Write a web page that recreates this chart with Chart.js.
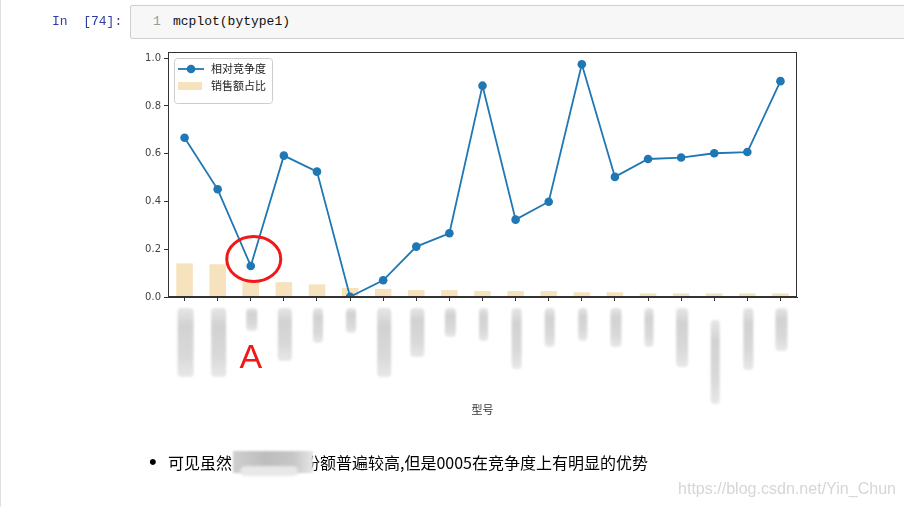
<!DOCTYPE html>
<html><head><meta charset="utf-8">
<script src="https://cdn.jsdelivr.net/npm/chart.js@4.4.0/dist/chart.umd.min.js"></script>
<style>
html,body{margin:0;padding:0;background:#fff;width:904px;height:507px;overflow:hidden;position:relative;}
#c{position:absolute;left:0;top:0;z-index:1;}
.abs{position:absolute;white-space:pre;z-index:2;}
.mono{font-family:'Liberation Mono','DejaVu Sans Mono',monospace;font-size:13px;line-height:16px;}
</style></head><body>
<div class="abs" style="left:0;top:0;width:1px;height:507px;background:#e0e0e0"></div>
<div class="abs mono" style="left:52px;top:14px;color:#303F9F">In  [74]:</div>
<div class="abs" style="left:130px;top:5px;width:790px;height:32px;background:#f7f7f7;border:1px solid #cfcfcf;border-radius:2px"></div>
<div class="abs mono" style="left:153px;top:14px;color:#999">1</div>
<div class="abs mono" style="left:173px;top:14px;color:#111">mcplot(bytype1)</div>
<canvas id="c" width="904" height="507"></canvas>
<div class="abs" style="left:149px;top:449px;font:22px 'Liberation Sans',sans-serif;line-height:26px;color:#000">•</div>
<div class="abs" id="t1" style="left:168px;top:451px;font:16px 'Noto Sans CJK SC',sans-serif;line-height:22px;color:#000">可见虽然</div>
<div class="abs" id="t2" style="left:306px;top:451px;font:16px 'Noto Sans CJK SC',sans-serif;line-height:22px;color:#000">份额普遍较高,但是0005在竞争度上有明显的优势</div>
<div class="abs" style="left:233px;top:451px;width:80px;height:22px;background:linear-gradient(90deg,#cfcfcf,#bdbdbd 40%,#c6c6c6 75%,#e6e6e6);filter:blur(1.2px);z-index:3"></div>
<div class="abs" style="left:240px;top:466px;width:58px;height:10px;border-radius:6px;background:#e8e8e8;filter:blur(1.5px);z-index:3"></div>
<div class="abs" id="wm" style="left:678px;top:478px;font:16px 'Liberation Sans',Arial,sans-serif;line-height:22px;color:#d6d6d6;transform-origin:0 0">https://blog.csdn.net/Yin_Chun</div>
<script>
// ---- data ----
const categories = ['型号01','型号02','型号03','型号04','型号05','型号06','型号07','型号08','型号09','型号10','型号11','型号12','型号13','型号14','型号15','型号16','型号17','型号18','型号19'];
const competition = [0.667,0.451,0.130,0.592,0.525,0.001,0.070,0.211,0.267,0.885,0.324,0.399,0.975,0.503,0.578,0.584,0.602,0.607,0.904];
const salesShare = [0.141,0.137,0.064,0.062,0.053,0.038,0.034,0.029,0.029,0.025,0.025,0.025,0.020,0.020,0.015,0.015,0.015,0.015,0.015];
const yTicks = [0,0.2,0.4,0.6,0.8,1.0];
const seriesNames = ['相对竞争度','销售额占比'];
// decoration: lengths of the blurred (redacted) tick labels
const blurLen = [69,69,23,53,35,25,69,49,29,33,61,39,33,39,39,59,84,62,43];
const blurW = [16,15,11,14,10,10,14,14,11,9,10,10,9,11,9,12,9,10,12];

// fit watermark width and right-align sentence tail
(function(){const w=document.getElementById('wm');const r=w.getBoundingClientRect().width;w.style.transform='scaleX('+(218/r)+')';
const t=document.getElementById('t2');const tw=t.getBoundingClientRect().width;t.style.left=(648-tw)+'px';})();

const LINE='#1f77b4', BAR='#f6e2bd', FRAME='#333';
const deco = {
  id:'deco',
  afterDraw(chart){
    const {ctx, chartArea:a, scales:{x,y}} = chart;
    ctx.save();
    // frame
    ctx.strokeStyle=FRAME; ctx.lineWidth=1;
    ctx.strokeRect(Math.round(a.left)+0.5, Math.round(a.top)+0.5, Math.round(a.right-a.left)-1, Math.round(a.bottom-a.top)-1);
    // legend
    const lx=a.left+6, ly=a.top+6;
    ctx.beginPath(); ctx.roundRect(lx+0.5, ly+0.5, 98, 45, 3);
    ctx.fillStyle='rgba(255,255,255,0.85)'; ctx.fill();
    ctx.strokeStyle='#cccccc'; ctx.stroke();
    ctx.strokeStyle=LINE; ctx.lineWidth=1.8;
    ctx.beginPath(); ctx.moveTo(lx+4, ly+11); ctx.lineTo(lx+30, ly+11); ctx.stroke();
    ctx.fillStyle=LINE; ctx.beginPath(); ctx.arc(lx+17, ly+11, 4.3, 0, Math.PI*2); ctx.fill();
    ctx.fillStyle=BAR; ctx.fillRect(lx+4, ly+24, 24, 8);
    ctx.fillStyle='#222'; ctx.font="11px 'Noto Sans CJK SC'"; ctx.textBaseline='middle'; ctx.textAlign='left';
    ctx.fillText(chart.data.datasets[0].label, lx+37, ly+11);
    ctx.fillText(chart.data.datasets[1].label, lx+37, ly+28);
    // blurred (redacted) tick labels
    ctx.filter='blur(0.8px)';
    categories.forEach((c,i)=>{
      const px=x.getPixelForValue(i);
      const top = i===16 ? a.bottom+23 : a.bottom+11;
      const g=ctx.createLinearGradient(0,top,0,top+blurLen[i]);
      g.addColorStop(0,'#e6e6e6'); g.addColorStop(0.25,'#d2d2d2'); g.addColorStop(0.7,'#d9d9d9'); g.addColorStop(1,'#e8e8e8');
      ctx.fillStyle=g;
      ctx.beginPath(); ctx.roundRect(px-blurW[i]/2+1, top, blurW[i], blurLen[i], 4); ctx.fill();
    });
    ctx.filter='none';
    // annotation: red circle around point 3 and "A"
    const cx=x.getPixelForValue(2)+3, cy=y.getPixelForValue(competition[2])-7;
    ctx.strokeStyle='#f21818'; ctx.lineWidth=3;
    ctx.beginPath(); ctx.ellipse(cx, cy, 27, 22.5, 0, 0, Math.PI*2); ctx.stroke();
    ctx.fillStyle='#f21818'; ctx.font="34px 'Liberation Sans',Arial,sans-serif"; ctx.textAlign='center'; ctx.textBaseline='alphabetic';
    ctx.fillText('A', x.getPixelForValue(2), a.bottom+71);
    ctx.restore();
  }
};

new Chart(document.getElementById('c'), {
  data:{
    labels:categories,
    datasets:[
      {type:'line', label:seriesNames[0], data:competition, borderColor:LINE, backgroundColor:LINE, borderWidth:1.8,
       pointRadius:4.3, pointBackgroundColor:LINE, pointBorderWidth:0, tension:0, order:0},
      {type:'bar', label:seriesNames[1], data:salesShare, backgroundColor:BAR, borderWidth:0,
       barPercentage:0.5, categoryPercentage:1, order:1}
    ]
  },
  options:{
    responsive:false, animation:false, devicePixelRatio:1,
    layout:{padding:{left:100, top:52, right:107, bottom:87}},
    plugins:{legend:{display:false}, tooltip:{enabled:false}},
    scales:{
      x:{type:'category', offset:true,
         grid:{offset:false, drawOnChartArea:false, drawTicks:true, tickLength:4, color:FRAME},
         border:{display:true, color:FRAME},
         ticks:{display:false},
         title:{display:true, text:'型号', color:'#333', font:{family:"'Noto Sans CJK SC'", size:11}, padding:{top:4,bottom:4}},
         afterFit(s){s.height=123;}
      },
      y:{type:'linear', min:0, max:1.026,
         afterBuildTicks(s){s.ticks=yTicks.map(v=>({value:v}));},
         grid:{drawOnChartArea:false, drawTicks:true, tickLength:4, color:FRAME},
         border:{display:true, color:FRAME},
         ticks:{padding:3, color:'#444', font:{family:"'DejaVu Sans'", size:10}, callback:v=>v.toFixed(1)},
         afterFit(s){s.width=68;}
      }
    }
  },
  plugins:[deco]
});
</script>
</body></html>
